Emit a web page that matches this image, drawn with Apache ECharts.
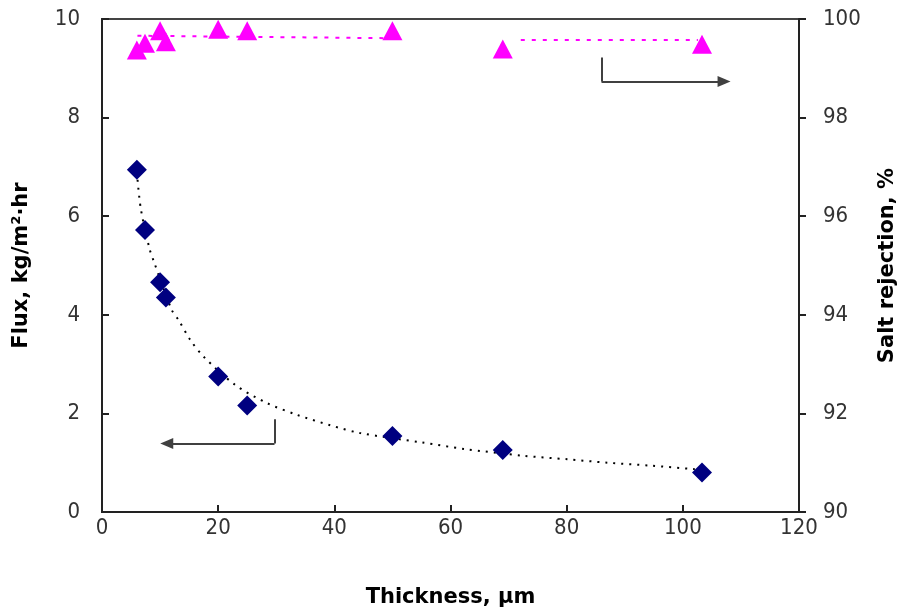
<!DOCTYPE html>
<html>
<head>
<meta charset="utf-8">
<script src="https://cdn.jsdelivr.net/npm/echarts@6/dist/echarts.min.js"></script>
<style>html,body{margin:0;padding:0;background:#fff}#c{width:901px;height:612px}</style>
</head>
<body>
<div id="c"></div>
<script>
// Data
var thickness = [6, 7.4, 10, 11, 20, 25, 50, 69, 103.3];
var flux = [6.94, 5.72, 4.66, 4.35, 2.75, 2.16, 1.54, 1.26, 0.80];
var rejection = [99.37, 99.51, 99.76, 99.54, 99.79, 99.76, 99.76, 99.39, 99.49];
// dotted trend curve for flux
var trendX = [6, 6.67, 8.16, 8.84, 12, 13.2, 15.2, 17.5, 22.9, 28.4, 33.6, 39.3, 44.5, 55.1, 62.3, 72.6, 80.1, 87, 94.5, 101.9, 103.3];
var trendY = [6.9, 6.16, 5.35, 5.11, 4.10, 3.89, 3.49, 3.15, 2.58, 2.21, 1.97, 1.76, 1.60, 1.41, 1.28, 1.14, 1.07, 1.00, 0.94, 0.87, 0.86];
// dotted magenta reference lines for salt rejection
var rejLineAX = [6.1, 50], rejLineAY = [99.66, 99.61];
var rejLineBX = [72.1, 102.6], rejLineBY = [99.575, 99.575];
// arrows (data coordinates)
var leftArrowX = [29.7, 29.7, 11.15], leftArrowY = [1.88, 1.39, 1.39];
var rightArrowX = [86.0, 86.0, 107.1], rightArrowY = [9.22, 8.73, 8.73];
var xTicks = {min: 0, max: 120, interval: 20};
var fluxTicks = {min: 0, max: 10, interval: 2};
var rejTicks = {min: 90, max: 100, interval: 2};

function pairs(xs, ys) { return xs.map(function (x, i) { return [x, ys[i]]; }); }
function arrowLines(xs, ys) {
  return [
    [{coord: [xs[0], ys[0]], symbol: 'none'}, {coord: [xs[1], ys[1]], symbol: 'none'}],
    [{coord: [xs[1], ys[1]], symbol: 'none'}, {coord: [xs[2], ys[2]], symbol: 'triangle', symbolSize: [11, 13], itemStyle: {color: '#000'}}]
  ];
}

var tickFont = '"Liberation Sans Narrow", "DejaVu Sans Condensed", "Liberation Sans"';
var titleFont = '"DejaVu Sans"';
var tickLabel = {fontFamily: tickFont, fontSize: 22, color: '#333'};
var titleStyle = {fontFamily: titleFont, fontWeight: 'bold', fontSize: 21, color: '#000'};
var chart = echarts.init(document.getElementById('c'), null, {renderer: 'canvas'});
chart.setOption({
  animation: false,
  backgroundColor: '#fff',
  grid: {left: 102, right: 102, top: 19, bottom: 100, containLabel: false, outerBoundsMode: 'none',
         show: true, borderColor: '#444', borderWidth: 2, backgroundColor: 'transparent'},
  xAxis: {
    type: 'value', min: xTicks.min, max: xTicks.max, interval: xTicks.interval,
    name: 'Thickness, µm', nameLocation: 'middle', nameGap: 75,
    nameTextStyle: titleStyle,
    axisLine: {show: true, lineStyle: {color: '#222', width: 2}},
    axisTick: {show: true, inside: true, length: 7, lineStyle: {color: '#222', width: 2}},
    axisLabel: Object.assign({margin: 5}, tickLabel),
    splitLine: {show: false}
  },
  yAxis: [{
    type: 'value', min: fluxTicks.min, max: fluxTicks.max, interval: fluxTicks.interval, position: 'left',
    name: 'Flux, kg/m²·hr', nameLocation: 'middle', nameGap: 70, nameRotate: 90,
    nameTextStyle: titleStyle,
    axisLine: {show: true, lineStyle: {color: '#222', width: 2}},
    axisTick: {show: true, inside: true, length: 7, lineStyle: {color: '#222', width: 2}},
    axisLabel: Object.assign({margin: 22}, tickLabel),
    splitLine: {show: false}
  }, {
    type: 'value', min: rejTicks.min, max: rejTicks.max, interval: rejTicks.interval, position: 'right',
    name: 'Salt rejection, %', nameLocation: 'middle', nameGap: 78, nameRotate: 90,
    nameTextStyle: titleStyle,
    axisLine: {show: true, lineStyle: {color: '#222', width: 2}},
    axisTick: {show: true, inside: false, length: 7, lineStyle: {color: '#222', width: 2}},
    axisLabel: Object.assign({margin: 24}, tickLabel),
    splitLine: {show: false}
  }],
  series: [
    {
      type: 'line', data: pairs(trendX, trendY), yAxisIndex: 0, smooth: 0.3,
      showSymbol: false, symbol: 'none', silent: true,
      lineStyle: {color: '#000', width: 2, type: [2, 6]}, z: 2
    },
    {
      type: 'line', data: pairs(rejLineAX, rejLineAY), yAxisIndex: 1,
      symbol: 'none', silent: true, lineStyle: {color: '#ff00ff', width: 2, type: [4, 7]}, z: 2
    },
    {
      type: 'line', data: pairs(rejLineBX, rejLineBY), yAxisIndex: 1,
      symbol: 'none', silent: true, lineStyle: {color: '#ff00ff', width: 2, type: [4, 7]}, z: 2
    },
    {
      type: 'scatter', data: pairs(thickness, flux), yAxisIndex: 0,
      symbol: 'diamond', symbolSize: 20, itemStyle: {color: '#000080', opacity: 1}, z: 4,
      markLine: {
        silent: true, animation: false, symbol: ['none', 'none'],
        label: {show: false},
        lineStyle: {color: '#404040', width: 2, type: 'solid'},
        data: arrowLines(leftArrowX, leftArrowY).concat(arrowLines(rightArrowX, rightArrowY))
      }
    },
    {
      type: 'scatter', data: pairs(thickness, rejection), yAxisIndex: 1,
      symbol: 'triangle', symbolSize: [20, 19], itemStyle: {color: '#ff00ff', opacity: 1}, z: 5
    }
  ]
});
</script>
</body>
</html>
